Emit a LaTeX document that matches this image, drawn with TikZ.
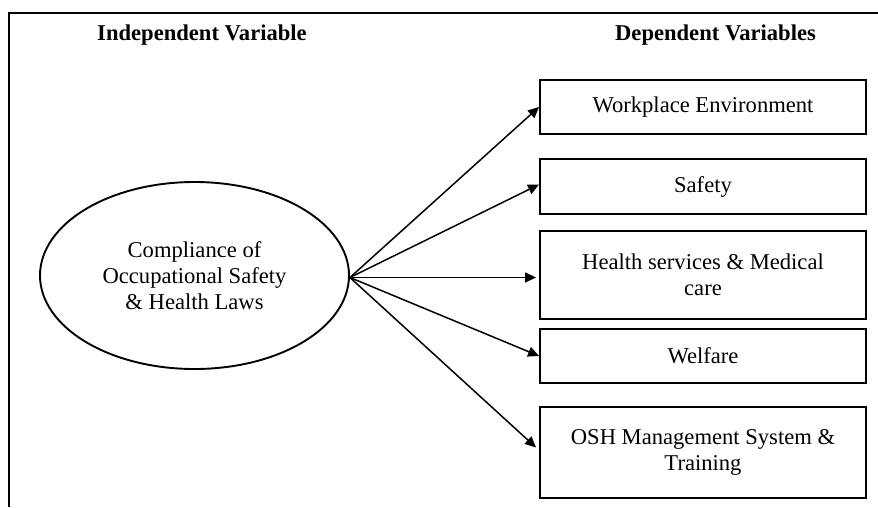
\documentclass[tikz,border=0pt]{standalone}
\usepackage{fontspec}
\setmainfont{Liberation Serif}
\usetikzlibrary{arrows.meta,shapes.geometric}
\begin{document}
\begin{tikzpicture}[x=1pt,y=-1pt,
  every node/.style={font=\fontsize{22.6}{26}\selectfont},
  title/.style={font=\fontsize{22.6}{26}\selectfont\bfseries},
  dvbox/.style={draw,line width=1.9pt,minimum width=326pt,inner sep=0pt,align=center},
  ivell/.style={draw,ellipse,line width=1.9pt,minimum width=309pt,minimum height=187pt,inner sep=0pt,align=center},
  conn/.style={line width=1.5pt,-{Triangle[length=11pt,width=10pt]}},
  frame/.style={line width=2pt}]
\useasboundingbox (0,0) rectangle (878,507);
\coordinate (fa) at (8.5,13);
\coordinate (fb) at (878,13);
\coordinate (fc) at (8.5,507);
\draw[frame] (fb) -- (fa) -- (fc);
\node[title] (t1) at (202,35) {Independent Variable};
\node[title] (t2) at (715.5,35) {Dependent Variables};
\node[ivell] (iv) at (194.5,275.5) {Compliance of\\Occupational Safety\\\& Health Laws};
\node[dvbox,minimum height=54pt] (b1) at (703,107) {Workplace Environment};
\node[dvbox,minimum height=55pt] (b2) at (703,186.5) {Safety};
\node[dvbox,minimum height=88pt] (b3) at (703,275) {Health services \& Medical\\care};
\node[dvbox,minimum height=54pt] (b4) at (703,356) {Welfare};
\node[dvbox,minimum height=91pt] (b5) at (703,452.5) {OSH Management System \&\\Training};
\coordinate (src) at ([yshift=-2pt]iv.east);
\draw[conn] (src) -- (b1.west);
\draw[conn] (src) -- ([yshift=2pt]b2.west);
\draw[conn] (src) -- ([xshift=-3pt,yshift=-2.5pt]b3.west);
\draw[conn] (src) -- (b4.west);
\draw[conn] (src) -- ([xshift=-3pt,yshift=5pt]b5.west);
\end{tikzpicture}
\end{document}
